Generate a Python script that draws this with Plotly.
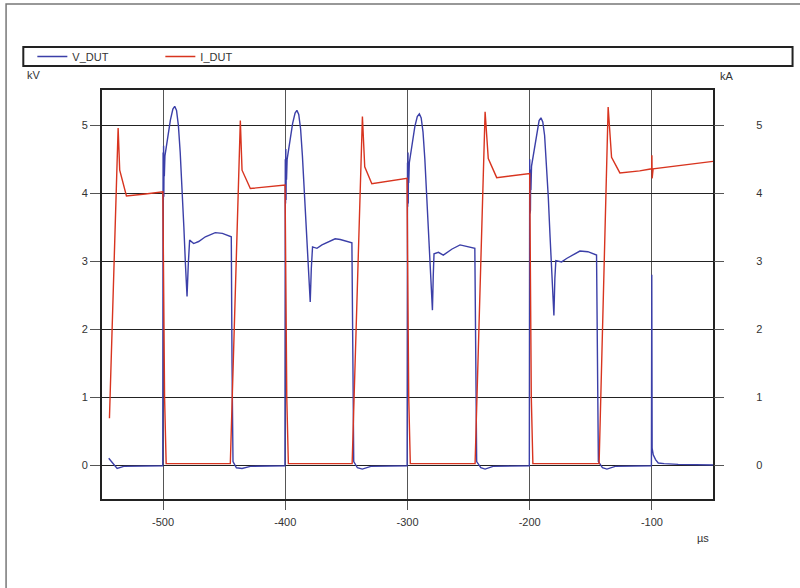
import plotly.graph_objects as go

# ---------------- data ----------------
# V_DUT  [kV] vs time [µs]
v_time = [
    -544.5, -537.6, -532.2, -515.0, -500.3,
    -500.0, -499.8, -499.6, -499.4, -499.2, -499.0, -498.5, -496.0, -494.0, -492.0, -490.5,
    -489.0, -487.5, -486.0, -484.5, -483.0, -481.7, -480.4, -479.4, -478.3, -475.0, -470.9,
    -465.4, -457.3, -451.5, -444.2, -443.6, -442.8, -440.0, -435.4, -428.6, -415.0, -400.3,
    -400.0, -399.8, -399.6, -399.4, -399.2, -399.0, -398.5, -396.0, -394.0, -392.0, -390.5,
    -389.0, -387.5, -386.0, -384.5, -383.0, -381.2, -379.6, -378.7, -377.7, -374.1, -370.0,
    -359.2, -355.0, -345.5, -344.8, -344.0, -341.0, -337.0, -330.0, -315.0, -300.3,
    -300.0, -299.8, -299.6, -299.4, -299.2, -299.0, -298.5, -296.0, -294.0, -292.0, -290.3,
    -288.8, -287.3, -285.8, -284.3, -282.8, -281.2, -279.6, -278.9, -278.3, -274.7, -270.7,
    -263.5, -257.0, -244.9, -244.2, -243.4, -240.0, -236.5, -230.0, -215.0, -200.3,
    -200.0, -199.8, -199.6, -199.4, -199.2, -199.0, -198.5, -196.0, -194.0, -192.3, -190.8,
    -189.3, -187.8, -186.3, -184.8, -183.3, -181.7, -180.2, -179.4, -178.6, -173.9, -169.8,
    -158.9, -152.4, -145.3, -144.6, -143.8, -140.5, -136.8, -130.0, -115.0, -100.4,
    -100.1, -99.8, -98.9, -97.0, -94.8, -90.0, -78.5, -50.0,
]
v_kv = [
    0.10, -0.05, -0.02, -0.01, -0.01,
    4.60, 3.90, 4.70, 3.95, 4.55, 4.25, 4.55, 4.85, 5.08, 5.24, 5.28,
    5.22, 5.00, 4.60, 4.10, 3.50, 2.95, 2.48, 2.95, 3.31, 3.26, 3.29,
    3.36, 3.42, 3.41, 3.36, 1.50, 0.05, -0.04, -0.05, -0.02, -0.01, -0.01,
    4.50, 3.85, 4.65, 3.90, 4.50, 4.20, 4.50, 4.80, 5.03, 5.18, 5.22,
    5.16, 4.95, 4.55, 4.05, 3.45, 2.85, 2.40, 2.90, 3.21, 3.19, 3.24,
    3.33, 3.32, 3.27, 1.50, 0.05, -0.04, -0.06, -0.02, -0.01, -0.01,
    4.45, 3.80, 4.60, 3.85, 4.45, 4.15, 4.45, 4.75, 4.98, 5.13, 5.17,
    5.11, 4.90, 4.50, 4.00, 3.40, 2.80, 2.28, 2.80, 3.11, 3.13, 3.09,
    3.18, 3.24, 3.19, 1.50, 0.05, -0.04, -0.06, -0.02, -0.01, -0.01,
    4.50, 3.70, 4.45, 3.75, 4.35, 4.05, 4.40, 4.70, 4.92, 5.07, 5.11,
    5.05, 4.85, 4.45, 3.95, 3.35, 2.75, 2.20, 2.75, 3.01, 2.99, 3.04,
    3.15, 3.14, 3.09, 1.50, 0.05, -0.04, -0.06, -0.02, -0.01, -0.01,
    2.80, 0.25, 0.15, 0.08, 0.03, 0.02, 0.01, 0.00,
]

# I_DUT  [kA] vs time [µs]
i_time = [
    -543.9, -541.7, -536.8, -535.5, -532.2, -530.0, -514.5, -500.2, -498.8, -497.5, -470.0, -445.0,
    -436.8, -435.4, -428.6, -415.0, -400.2, -398.8, -397.5, -370.0, -345.3,
    -336.9, -335.0, -329.2, -315.0, -300.4, -299.0, -297.7, -270.0, -244.7,
    -236.5, -233.9, -227.0, -215.0, -200.0, -198.7, -197.4, -170.0, -143.2,
    -135.8, -133.0, -126.2, -110.0, -100.2, -100.0, -99.8, -99.0, -78.5, -50.0,
]
i_ka = [
    0.69, 2.13, 4.96, 4.34, 4.09, 3.96, 3.99, 4.02, 1.00, 0.02, 0.02, 0.02,
    5.07, 4.34, 4.07, 4.09, 4.12, 1.00, 0.02, 0.02, 0.02,
    5.13, 4.39, 4.14, 4.18, 4.22, 1.00, 0.02, 0.02, 0.02,
    5.20, 4.51, 4.23, 4.26, 4.29, 1.00, 0.02, 0.02, 0.02,
    5.27, 4.53, 4.30, 4.33, 4.36, 4.56, 4.22, 4.36, 4.41, 4.47,
]

y_ticks = [0, 1, 2, 3, 4, 5]
x_ticks = [-500, -400, -300, -200, -100]
x_tick_labels = ["-500", "-400", "-300", "-200", "-100"]

# ---------------- figure ----------------
FONT = "Liberation Sans, Arial, sans-serif"
BLUE = "#3b3fa8"
RED = "#d8341f"

fig = go.Figure()
fig.add_trace(go.Scatter(x=v_time, y=v_kv, mode="lines", name="V_DUT",
                         line=dict(color=BLUE, width=1.4)))
fig.add_trace(go.Scatter(x=i_time, y=i_ka, mode="lines", name="I_DUT", yaxis="y2",
                         line=dict(color=RED, width=1.4)))

yr = [-0.5, 5.52]
fig.update_layout(
    width=800, height=588,
    margin=dict(l=102, r=87, t=90, b=89),
    paper_bgcolor="white", plot_bgcolor="white",
    font=dict(family=FONT, size=11, color="#333"),
    showlegend=True,
    legend=dict(orientation="h", x=-0.114, y=1.0819, xanchor="left", yanchor="middle",
                bgcolor="rgba(0,0,0,0)", entrywidth=83, entrywidthmode="pixels",
                font=dict(family=FONT, size=11, color="#333")),
    xaxis=dict(range=[-550, -50], tickvals=x_ticks, ticktext=x_tick_labels,
               showgrid=True, gridcolor="#555", gridwidth=1,
               ticks="outside", ticklen=9, tickcolor="#555", ticklabelstandoff=3,
               showline=True, mirror=True, linecolor="#222", linewidth=2,
               zeroline=False, tickfont=dict(size=11, color="#333")),
    yaxis=dict(range=yr, tickvals=y_ticks, showgrid=True, gridcolor="#222", gridwidth=1,
               ticks="outside", ticklen=10, tickcolor="#555",
               showline=True, mirror=True, linecolor="#222", linewidth=2,
               zeroline=False, tickfont=dict(size=11, color="#333")),
    yaxis2=dict(range=yr, tickvals=y_ticks, overlaying="y", side="right", showgrid=False,
                ticks="outside", ticklen=10, tickcolor="#555", ticklabelstandoff=30,
                zeroline=False, showline=False, tickfont=dict(size=11, color="#333")),
    shapes=[
        # outer frame
        dict(type="rect", xref="paper", yref="paper", x0=-0.157, x1=1.16, y0=-0.25, y1=1.2103,
             line=dict(color="#777", width=1.5), layer="below"),
        # legend box
        dict(type="rect", xref="paper", yref="paper", x0=-0.1288, x1=1.1302, y0=1.0587, y1=1.1051,
             line=dict(color="#222", width=2), layer="below"),
    ],
    annotations=[
        dict(text="kV", xref="paper", yref="paper", x=-0.1107, y=1.0367, showarrow=False,
             xanchor="center", yanchor="middle", font=dict(size=11, color="#333")),
        dict(text="kA", xref="paper", yref="paper", x=1.0224, y=1.034, showarrow=False,
             xanchor="center", yanchor="middle", font=dict(size=11, color="#333")),
        dict(text="µs", xref="paper", yref="paper", x=0.983, y=-0.0954, showarrow=False,
             xanchor="center", yanchor="middle", font=dict(size=11, color="#333")),
    ],
)

fig.write_html("out.html", config={"displayModeBar": False},
               post_script="document.body.style.margin='0';")
